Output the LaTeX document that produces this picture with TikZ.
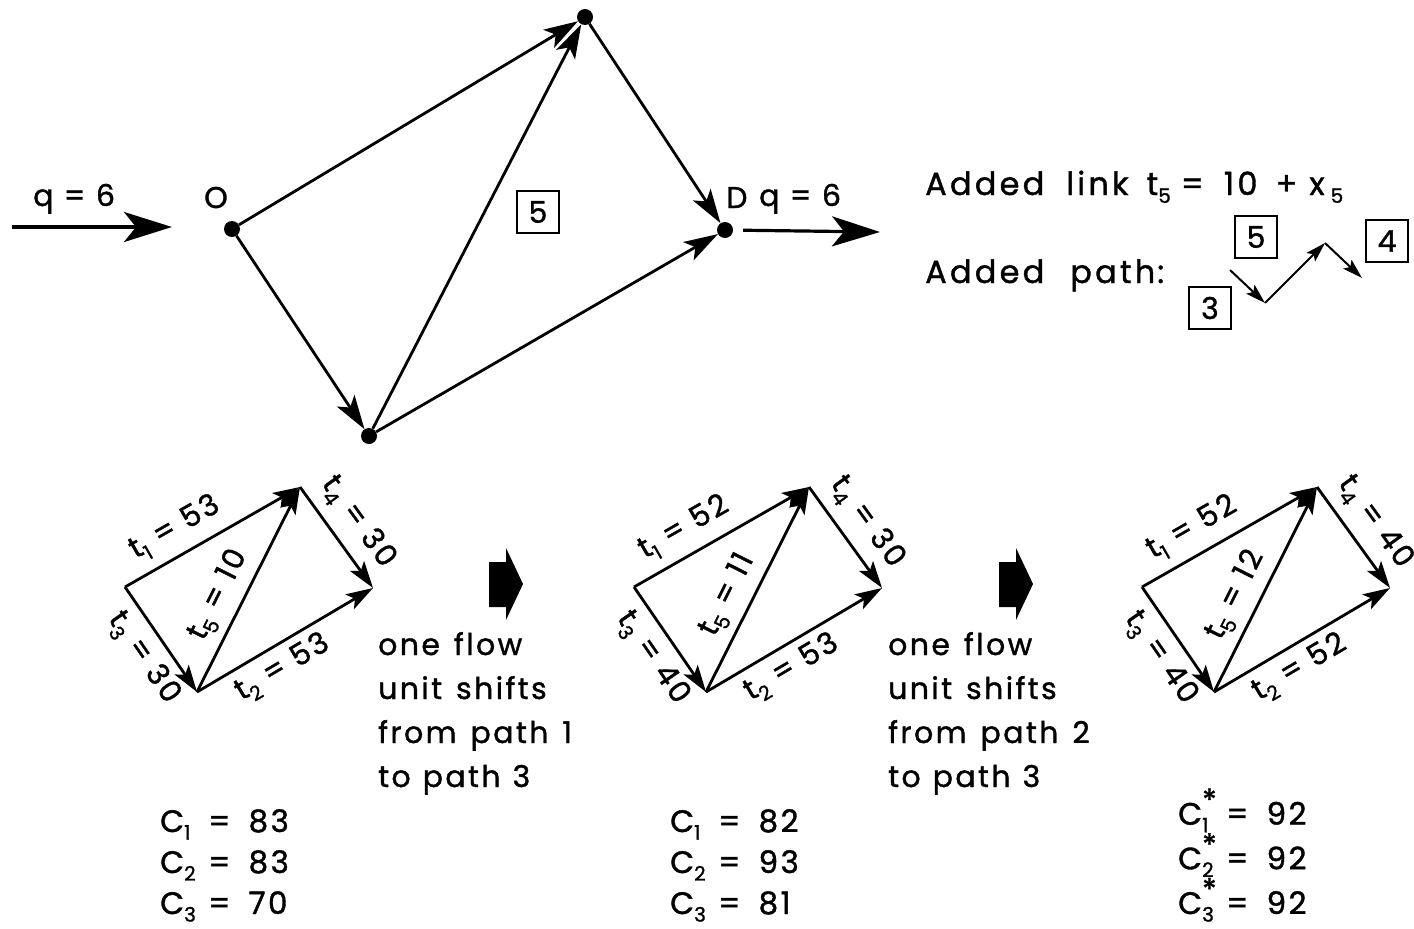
\documentclass[tikz,border=0pt]{standalone}
\usepackage{fontspec}
\setmainfont{Poppins}[LetterSpace=8,FakeBold=1.2]
\usetikzlibrary{arrows.meta}
\newcommand\fs{\fontsize{30}{44}\selectfont}
\newcommand\fsc{\fontsize{31}{41}\selectfont}
\newcommand\fsl{\fontsize{30}{34}\selectfont}
\newcommand\fsb{\fontsize{32}{40}\selectfont\addfontfeature{LetterSpace=10}}
\newcommand\sub[1]{\raisebox{-0.45ex}{\fontsize{20}{20}\selectfont #1}}
\newcommand\ssub[1]{\rlap{\raisebox{14pt}{\fontsize{30}{30}\selectfont *}}\raisebox{-0.45ex}{\fontsize{20}{20}\selectfont #1}}
\newcommand\crow[2]{\makebox[48pt][l]{#1}=\hspace{18pt}#2}
\tikzset{
  dot/.style={circle,fill,inner sep=0pt,minimum size=16pt},
  bigedge/.style={line width=2.8pt,-{Stealth[length=34pt,width=21pt,inset=8pt]}},
  flowarrow/.style={line width=3.2pt,-{Stealth[length=48pt,width=30pt,inset=12pt]}},
  smalledge/.style={line width=2.8pt,-{Stealth[length=27pt,width=17pt,inset=6pt]}},
  pathedge/.style={line width=2pt,-{Stealth[length=20pt,width=12pt,inset=4pt]}},
  numbox/.style={draw,line width=2pt,minimum width=42pt,minimum height=42pt,inner sep=0pt,font=\fs},
  lbl/.style={font=\fsl,inner sep=1pt},
  txt/.style={font=\fs,anchor=base west,inner sep=0pt,align=left},
  blockarrow/.style={fill=black}
}
\newcommand\smalldiag[7]{%
  \begin{scope}[shift={(#2,0)}]
    \coordinate (#1L) at (125,587);
    \coordinate (#1T) at (300,487);
    \coordinate (#1R) at (373,588);
    \coordinate (#1B) at (197,692);
    \draw[smalledge] (#1L) -- (#1T) node[lbl,sloped,pos=0.36,above=9pt] {t\sub{1} = #3};
    \draw[smalledge] (#1B) -- (#1R) node[lbl,sloped,pos=0.42,below=6pt] {t\sub{2} = #4};
    \draw[smalledge] (#1L) -- (#1B) node[lbl,sloped,pos=0.54,below=8pt] {t\sub{3} = #5};
    \draw[smalledge] (#1T) -- (#1R) node[lbl,sloped,pos=0.50,above=9pt] {t\sub{4} = #6};
    \draw[smalledge] (#1B) -- (#1T) node[lbl,sloped,pos=0.42,above=7pt] {t\sub{5} = #7};
  \end{scope}}
\begin{document}
\begin{tikzpicture}[x=1pt,y=-1pt]
\useasboundingbox (0,0) rectangle (1414,929);
% main network
\node[dot] (O) at (232,229) {};
\node[dot] (T) at (585,17) {};
\node[dot] (D) at (725,230) {};
\node[dot] (B) at (369,436) {};
\draw[bigedge] (O) -- (T);
\draw[bigedge] (O) -- (B);
\draw[bigedge] (B) -- (T);
\draw[bigedge] (T) -- (D);
\draw[bigedge] (B) -- (D);
\node[numbox] (b5) at (538,212) {5};
\node[txt] (Olbl) at (204,208) {O};
\node[txt] (Dlbl) at (726,208) {D};
\node[txt] (qin) at (33,206) {q = 6};
\node[txt] (qout) at (759,206) {q = 6};
\coordinate (inS) at (12,227);
\coordinate (inE) at (172,227);
\coordinate (outE) at (880,232);
\draw[flowarrow] (inS) -- (inE);
\draw[flowarrow,shorten <=10pt] (D) -- (outE);
% added link / path
\node[txt,font=\fsb] (addlink) at (925,195) {Added\hspace{22pt}link\hspace{18pt}t\sub{5}\hspace{10pt}=\hspace{20pt}10\hspace{18pt}+\hspace{12pt}x\hspace{6pt}\sub{5}};
\node[txt,font=\fsb] (addpath) at (925,283) {Added\hspace{26pt}path\hspace{2pt}:};
\coordinate (p0) at (1230,270);
\coordinate (p1) at (1265,303);
\coordinate (p2) at (1325,243);
\coordinate (p3) at (1362,278);
\draw[pathedge] (p0) -- (p1);
\draw[pathedge] (p1) -- (p2);
\draw[pathedge] (p2) -- (p3);
\node[numbox] (pb5) at (1256,237) {5};
\node[numbox] (pb4) at (1387,241) {4};
\node[numbox] (pb3) at (1210,308) {3};
% small diagrams
\smalldiag{a}{0}{53}{53}{30}{30}{10}
\smalldiag{b}{509}{52}{53}{40}{30}{11}
\smalldiag{c}{1017}{52}{52}{40}{40}{12}
% block arrows
\fill[blockarrow] (489,562) -- (506,562) -- (506,548) -- (523,584) -- (506,620) -- (506,607) -- (489,607) -- cycle;
\fill[blockarrow] (999,562) -- (1016,562) -- (1016,548) -- (1033,584) -- (1016,620) -- (1016,607) -- (999,607) -- cycle;
% shift texts
\node[txt] (shift1) at (378,787) {one\hspace{14pt}flow\\unit\hspace{14pt}shifts\\from\hspace{14pt}path\hspace{14pt}1\\to\hspace{12pt}path\hspace{12pt}3};
\node[txt] (shift2) at (888,787) {one\hspace{14pt}flow\\unit\hspace{14pt}shifts\\from\hspace{14pt}path\hspace{14pt}2\\to\hspace{12pt}path\hspace{12pt}3};
% costs
\node[txt,font=\fsc] (cost1) at (160,914) {\crow{C\sub{1}}{83}\\\crow{C\sub{2}}{83}\\\crow{C\sub{3}}{70}};
\node[txt,font=\fsc] (cost2) at (670,914) {\crow{C\sub{1}}{82}\\\crow{C\sub{2}}{93}\\\crow{C\sub{3}}{81}};
\node[txt,font=\fsc] (cost3) at (1178,914) {\crow{C\ssub{1}}{92}\\\crow{C\ssub{2}}{92}\\\crow{C\ssub{3}}{92}};
\end{tikzpicture}
\end{document}
